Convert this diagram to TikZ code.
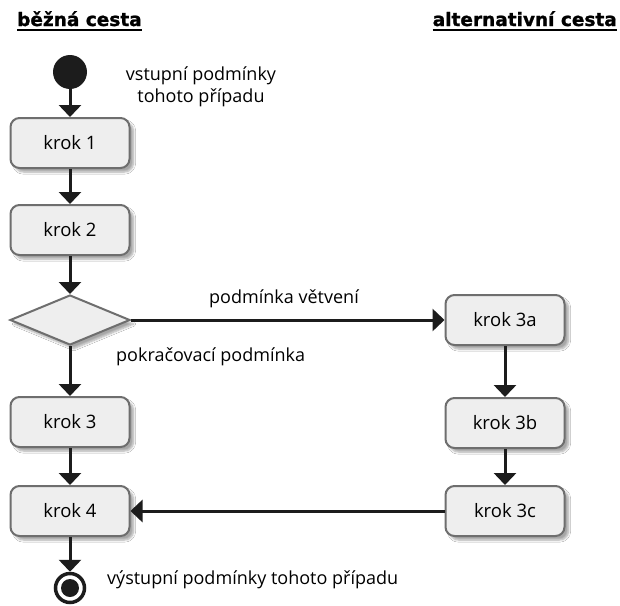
\documentclass[tikz,border=0pt]{standalone}
\usepackage{fontspec}
\setmainfont{Open Sans}
\newfontfamily\headfont{DejaVu Sans}[BoldFeatures={FakeBold=1.2}]
\usetikzlibrary{shapes.geometric,arrows.meta,shadows.blur}
\definecolor{boxfill}{HTML}{EEEEEE}
\definecolor{boxline}{HTML}{6E6E6E}
\definecolor{flowline}{HTML}{1C1C1C}
\tikzset{
  stepbox/.style={draw=boxline, line width=2pt, fill=boxfill, rounded corners=9pt,
    minimum width=119pt, minimum height=50pt, inner sep=0pt,
    font=\fontsize{18.5}{22}\selectfont,
    blur shadow={shadow xshift=4pt, shadow yshift=-4pt, shadow blur steps=6, shadow opacity=35}},
  decision/.style={diamond, draw=boxline, line width=2pt, fill=boxfill,
    minimum width=120pt, minimum height=50pt, inner sep=0pt,
    blur shadow={shadow xshift=4pt, shadow yshift=-4pt, shadow blur steps=6, shadow opacity=35}},
  flow/.style={draw=flowline, line width=3pt,
    -{Triangle[width=22pt,length=12pt]}},
  note/.style={inner sep=0pt, font=\fontsize{18}{22}\selectfont},
  heading/.style={inner sep=0pt, font=\headfont\bfseries\fontsize{18.5}{22}\selectfont},
}
\begin{document}
\begin{tikzpicture}[x=1pt,y=-1pt]
\useasboundingbox[fill=white] (0,0) rectangle (620,605);

% column headings
\node[heading, anchor=base west] (hmain) at (17,26) {běžná cesta};
\node[heading, anchor=base east] (halt) at (617,26) {alternativní cesta};
\draw[line width=1.8pt] ([yshift=-4pt]hmain.base west) -- ([yshift=-4pt]hmain.base east);
\draw[line width=1.8pt] ([yshift=-4pt]halt.base west) -- ([yshift=-4pt]halt.base east);

% start and end
\node[circle, fill=flowline, minimum size=34pt, inner sep=0pt] (start) at (70,72) {};
\node[circle, draw=flowline, line width=3.5pt, fill=white, minimum size=29pt, inner sep=0pt] (end) at (70,588) {};
\node[circle, fill=flowline, minimum size=18pt, inner sep=0pt] (endcore) at (end.center) {};

% main path
\node[stepbox] (k1) at (70,143) {krok 1};
\node[stepbox] (k2) at (70,230) {krok 2};
\node[decision] (dec) at (70,320) {};
\node[stepbox] (k3) at (70,422) {krok 3};
\node[stepbox] (k4) at (70,511) {krok 4};

% alternative path
\node[stepbox] (k3a) at (505,320) {krok 3a};
\node[stepbox] (k3b) at (505,423) {krok 3b};
\node[stepbox] (k3c) at (505,511) {krok 3c};

% labels
\node[note, align=center] (pre) at (201,87) {vstupní podmínky\\tohoto případu};
\node[note] (branch) at (284,299) {podmínka větvení};
\node[note, anchor=west] (cont) at (116,357) {pokračovací podmínka};
\node[note, anchor=west] (post) at (107,580) {výstupní podmínky tohoto případu};

% connectors
\draw[flow] (start) -- (k1);
\draw[flow] (k1) -- (k2);
\draw[flow] (k2) -- (dec);
\draw[flow] (dec) -- (k3);
\draw[flow] (k3) -- (k4);
\draw[flow] (k4) -- (end);
\draw[flow] (dec.east) -- (k3a.west);
\draw[flow] (k3a) -- (k3b);
\draw[flow] (k3b) -- (k3c);
\draw[flow] (k3c) -- (k4);
\end{tikzpicture}
\end{document}
